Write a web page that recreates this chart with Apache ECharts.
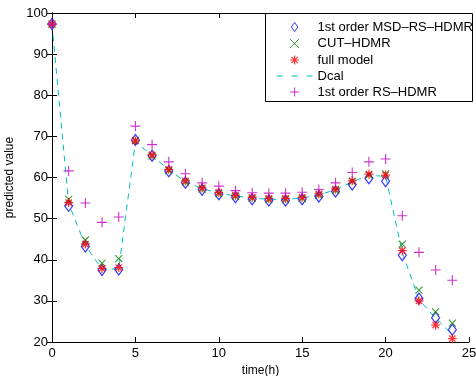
<!DOCTYPE html>
<html><head><meta charset="utf-8">
<script src="https://cdn.jsdelivr.net/npm/echarts@6/dist/echarts.min.js"></script>
<style>html,body{margin:0;padding:0;background:#fff}#c{width:476px;height:376px}</style>
</head><body><div id="c"></div>
<script>
const hours = [0,1,2,3,4,5,6,7,8,9,10,11,12,13,14,15,16,17,18,19,20,21,22,23,24];
const msdRsHdmr = [97.3,53.1,43.2,37.5,37.6,69.1,65.3,61.5,58.7,57.0,55.9,55.2,54.7,54.4,54.4,54.7,55.4,56.6,58.3,59.8,59.1,41.1,30.6,25.9,23.0];
const cutHdmr   = [97.3,54.7,44.8,39.2,40.3,69.0,65.2,61.7,58.9,57.2,56.1,55.4,54.9,54.6,54.6,54.9,55.7,56.9,59.0,60.6,60.9,43.8,32.6,27.3,24.6];
const fullModel = [97.3,53.9,43.8,37.9,38.1,68.9,65.5,62.0,59.2,57.5,56.4,55.7,55.2,54.9,54.9,55.2,56.0,57.2,59.2,60.8,60.6,42.2,30.0,24.1,20.8];
const dcal      = [97.3,53.6,43.5,37.7,37.8,68.6,65.4,61.8,59.0,57.3,56.2,55.5,55.0,54.7,54.7,55.0,55.8,57.0,59.0,60.5,60.3,41.8,30.3,25.8,21.8];
const rsHdmr    = [97.3,61.6,53.8,49.1,50.4,72.5,68.0,63.8,60.9,58.7,57.9,56.8,56.3,56.2,56.2,56.4,57.1,58.7,61.2,63.8,64.5,50.7,41.8,37.5,35.0];
const seriesNames = ['1st order MSD\u2013RS\u2013HDMR','CUT\u2013HDMR','full model','Dcal','1st order RS\u2013HDMR'];
const xTicks = {min:0,max:25,interval:5};
const yTicks = {min:20,max:100,interval:10};

const pair = arr => hours.map((h,i)=>[h,arr[i]]);
const XP = 'path://M0,0L10,10M10,0L0,10';
const STAR = 'path://M5,0L5,10M0,5L10,5M1.5,1.5L8.5,8.5M8.5,1.5L1.5,8.5';
const PLUS = 'path://M5,0L5,10M0,5L10,5';
const DIA = 'path://M4,0L8,5.5L4,11L0,5.5Z';
const font = 'Liberation Sans, Arial, sans-serif';
const axisCommon = {
  axisLine:{show:true,lineStyle:{color:'#000',width:1}},
  axisTick:{show:true,inside:true,length:5,lineStyle:{color:'#000'}},
  splitLine:{show:false}
};
const chart = echarts.init(document.getElementById('c'),null,{renderer:'canvas'});
chart.setOption({
  animation:false,
  backgroundColor:'#fff',
  grid:{left:52,right:7,top:13,bottom:34,containLabel:false,outerBoundsMode:'none'},
  xAxis:[
    Object.assign({type:'value',position:'bottom',min:xTicks.min,max:xTicks.max,interval:xTicks.interval,
      name:'time(h)',nameLocation:'middle',nameGap:23,nameTextStyle:{color:'#000',fontSize:12,fontFamily:font}},axisCommon,
      {axisLabel:{color:'#000',fontSize:13,fontFamily:font,margin:5}}),
    Object.assign({type:'value',position:'top',min:xTicks.min,max:xTicks.max,interval:xTicks.interval},axisCommon,{axisLabel:{show:false}})
  ],
  yAxis:[
    Object.assign({type:'value',position:'left',min:yTicks.min,max:yTicks.max,interval:yTicks.interval,
      name:'predicted value',nameLocation:'middle',nameGap:31,nameRotate:90,nameTextStyle:{color:'#000',fontSize:12,fontFamily:font}},axisCommon,
      {axisLabel:{color:'#000',fontSize:13,fontFamily:font,margin:4}}),
    Object.assign({type:'value',position:'right',min:yTicks.min,max:yTicks.max,interval:yTicks.interval},axisCommon,{axisLabel:{show:false}})
  ],
  graphic:[{type:'rect',left:265,top:13,shape:{width:207,height:88},style:{fill:'#fff',stroke:'#000',lineWidth:1},z:100}],
  legend:[
    {orient:'vertical',left:271,top:15,padding:5,itemWidth:36,itemHeight:9,itemGap:2.5,z:110,symbolKeepAspect:true,
     textStyle:{color:'#000',fontSize:13,fontFamily:font},
     data:[
       {name:seriesNames[0],icon:DIA,itemStyle:{color:'none',borderColor:'#0000ff',borderWidth:1}},
       {name:seriesNames[1],icon:XP,itemStyle:{color:'none',borderColor:'#008000',borderWidth:1}},
       {name:seriesNames[2],icon:STAR,itemStyle:{color:'none',borderColor:'#ff0000',borderWidth:1.2}},
       {name:seriesNames[3],itemStyle:{color:'rgba(0,0,0,0)',borderWidth:0},lineStyle:{color:'#00bfbf',width:1.2,type:[6,9]}},
       {name:seriesNames[4],icon:PLUS,itemStyle:{color:'none',borderColor:'#bf00bf',borderWidth:1}}
     ]}
  ],
  series:[
    {name:seriesNames[0],type:'scatter',data:pair(msdRsHdmr),symbol:DIA,symbolSize:[8,11],
     itemStyle:{color:'none',borderColor:'#0000ff',borderWidth:1.2},z:2},
    {name:seriesNames[1],type:'scatter',data:pair(cutHdmr),symbol:XP,symbolSize:7,
     itemStyle:{color:'none',borderColor:'#008000',borderWidth:1.1},z:3},
    {name:seriesNames[2],type:'scatter',data:pair(fullModel),symbol:STAR,symbolSize:9,
     itemStyle:{color:'none',borderColor:'#ff0000',borderWidth:1.3},z:4},
    {name:seriesNames[3],type:'line',data:pair(dcal),symbol:'none',
     lineStyle:{color:'#00bfbf',width:1,type:[6,5]},itemStyle:{color:'#00bfbf'},z:1},
    {name:seriesNames[4],type:'scatter',data:pair(rsHdmr),symbol:PLUS,symbolSize:10,
     itemStyle:{color:'none',borderColor:'#bf00bf',borderWidth:1.1},z:5}
  ]
});
</script></body></html>
